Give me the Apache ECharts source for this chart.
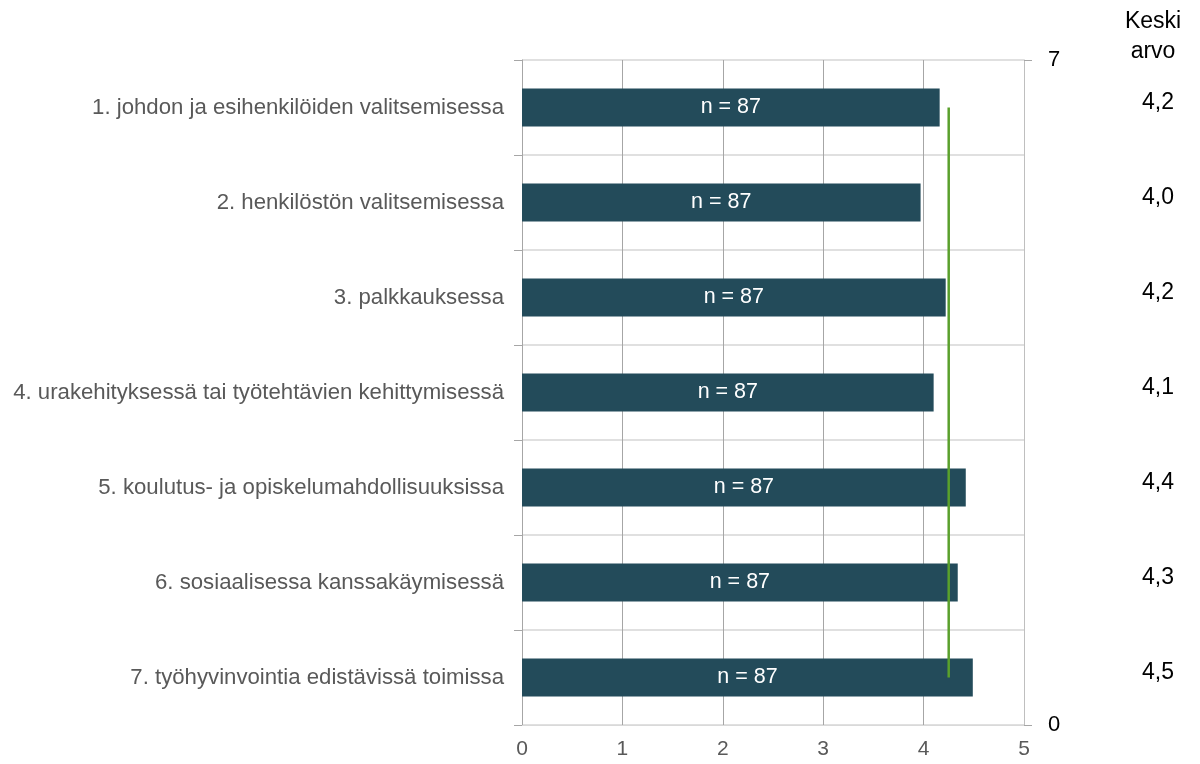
<!DOCTYPE html>
<html>
<head>
<meta charset="utf-8">
<script src="https://cdn.jsdelivr.net/npm/echarts@6/dist/echarts.min.js"></script>
<style>
  html, body { margin: 0; padding: 0; background: #fff; }
  #chart { width: 1200px; height: 764px; }
</style>
</head>
<body>
<div id="chart"></div>
<script>
// Survey items (top to bottom)
const categories = [
  '1. johdon ja esihenkilöiden valitsemisessa',
  '2. henkilöstön valitsemisessa',
  '3. palkkauksessa',
  '4. urakehityksessä tai työtehtävien kehittymisessä',
  '5. koulutus- ja opiskelumahdollisuuksissa',
  '6. sosiaalisessa kanssakäymisessä',
  '7. työhyvinvointia edistävissä toimissa'
];
// Mean score per item
const means = [4.16, 3.97, 4.22, 4.10, 4.42, 4.34, 4.49];
// Respondents per item
const counts = [87, 87, 87, 87, 87, 87, 87];
// Overall mean (green reference line)
const overallMean = 4.25;
// Secondary axis range (bottom 0, top 7)
const rightAxisMin = 0;
const rightAxisMax = 7;

const font = '"Liberation Sans", Arial, sans-serif';
const chart = echarts.init(document.getElementById('chart'));

chart.setOption({
  animation: false,
  backgroundColor: '#ffffff',
  title: {
    text: 'Keski\narvo',
    left: 1148,
    top: 2,
    textAlign: 'center',
    textStyle: { fontFamily: font, fontSize: 23, fontWeight: 'normal', color: '#000', lineHeight: 30 }
  },
  grid: { left: 522, right: 176, top: 60, bottom: 39, containLabel: false },
  xAxis: {
    type: 'value',
    min: 0, max: 5, interval: 1,
    axisLine: { show: true, lineStyle: { color: '#d9d9d9', width: 1 } },
    axisTick: { show: false },
    axisLabel: { fontFamily: font, fontSize: 21, color: '#595959', margin: 14 },
    splitLine: { show: true, lineStyle: { color: '#a6a6a6', width: 1 } }
  },
  yAxis: [
    {
      type: 'category',
      data: categories,
      inverse: true,
      position: 'left',
      axisLine: { show: true, lineStyle: { color: '#a6a6a6' } },
      axisTick: { show: true, length: 8, lineStyle: { color: '#a6a6a6' } },
      axisLabel: { fontFamily: font, fontSize: 22.2, color: '#595959', margin: 18 },
      splitLine: { show: true, lineStyle: { color: '#e0e0e0', width: 2 } }
    },
    {
      type: 'value',
      position: 'right',
      min: rightAxisMin, max: rightAxisMax, interval: rightAxisMax - rightAxisMin,
      axisLine: { show: true, lineStyle: { color: '#bfbfbf' } },
      axisTick: { show: true, length: 8, lineStyle: { color: '#a6a6a6' } },
      axisLabel: { fontFamily: font, fontSize: 22, color: '#000', margin: 24 },
      splitLine: { show: false }
    },
    {
      type: 'category',
      data: means.map(v => v.toFixed(1).replace('.', ',')),
      inverse: true,
      position: 'right',
      offset: 134,
      axisLine: { show: false },
      axisTick: { show: false },
      axisLabel: {
        margin: 0,
        align: 'center',
        formatter: v => '{m|' + v + '}',
        rich: {
          m: { fontFamily: font, fontSize: 23, color: '#000', padding: [0, 0, 9, 0] }
        }
      },
      splitLine: { show: false }
    }
  ],
  series: [
    {
      type: 'bar',
      yAxisIndex: 0,
      data: means,
      barWidth: 38,
      itemStyle: { color: '#234b5a' },
      label: {
        show: true,
        position: 'inside',
        fontFamily: font,
        fontSize: 21.5,
        color: '#ffffff',
        formatter: p => 'n = ' + counts[p.dataIndex]
      },
      z: 2
    },
    {
      type: 'line',
      yAxisIndex: 1,
      data: [[overallMean, 0.5], [overallMean, 6.5]],
      symbol: 'none',
      lineStyle: { color: '#5aa02c', width: 2.5 },
      z: 5
    }
  ]
});
</script>
</body>
</html>
